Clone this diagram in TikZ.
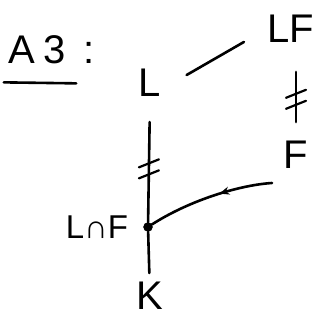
\documentclass[tikz,border=0pt]{standalone}
\usepackage{fontspec}
\setsansfont{Liberation Sans}
\usetikzlibrary{arrows.meta, positioning, decorations.markings}
\tikzset{
    ink/.style={
        draw=black, line width=2.6pt, line cap=round
    },
    letter/.style={
        font=\sffamily\fontsize{40}{40}\selectfont, inner sep=1pt
    },
    letter_small/.style={
        font=\sffamily\fontsize{33}{33}\selectfont, inner sep=1pt
    },
    meet_dot/.style={
        circle, fill=black, draw=black, minimum size=9pt, inner sep=0pt
    },
    tick_pair/.style={
        draw=black, line width=2.2pt, line cap=round
    },
    mid_arrow/.style={
        postaction={decorate},
        decoration={markings, mark=at position #1 with {
            \arrow{Stealth[length=10pt, width=8pt]}
        }}
    }
}

\begin{document}
\begin{tikzpicture}[x=1pt, y=-1pt]

    \useasboundingbox (0,0) rectangle (323,321);

    % --- title ---
    \node[letter] (title) at (52,50) {A\hspace{8pt}3\hspace{18pt}:};
    \draw[ink] ([shift={(-4pt,-17pt)}]title.south west) -- ([shift={(-20pt,-18pt)}]title.south east);

    % --- elements ---
    \node[letter] (L) at (150,83) {L};
    \node[letter] (LF) at (291,29) {LF};
    \node[letter] (F) at (296,155) {F};
    \node[meet_dot] (meet) at (148,227) {};
    \node[letter_small, left=14pt of meet] (meetlabel) {L∩F};
    \node[letter] (K) at (150,296) {K};
    \coordinate (Ftail) at (272,183);

    % --- lines ---
    \draw[ink, shorten <=28pt, shorten >=26pt] ([yshift=-6pt]L.east) -- (LF.west);
    \draw[ink, shorten <=28pt, shorten >=18pt] (LF.south -| F.north) -- coordinate[pos=0.55] (tickLF) (F.north);
    \draw[ink, shorten <=24pt] (L.south) -- coordinate[pos=0.55] (tickLm) (meet);
    \draw[ink, shorten >=8pt] (meet) -- (K);
    \draw[ink, mid_arrow=0.42] (Ftail) .. controls (240,185) and (190,200) .. (meet);

    % --- strokes across the lines ---
    \foreach \t in {tickLF, tickLm} {
        \draw[tick_pair] ([shift={(-10pt,-12pt)}]\t) -- ([shift={(10pt,-4pt)}]\t);
        \draw[tick_pair] ([shift={(-10pt,-1pt)}]\t) -- ([shift={(10pt,7pt)}]\t);
    }

\end{tikzpicture}
\end{document}
